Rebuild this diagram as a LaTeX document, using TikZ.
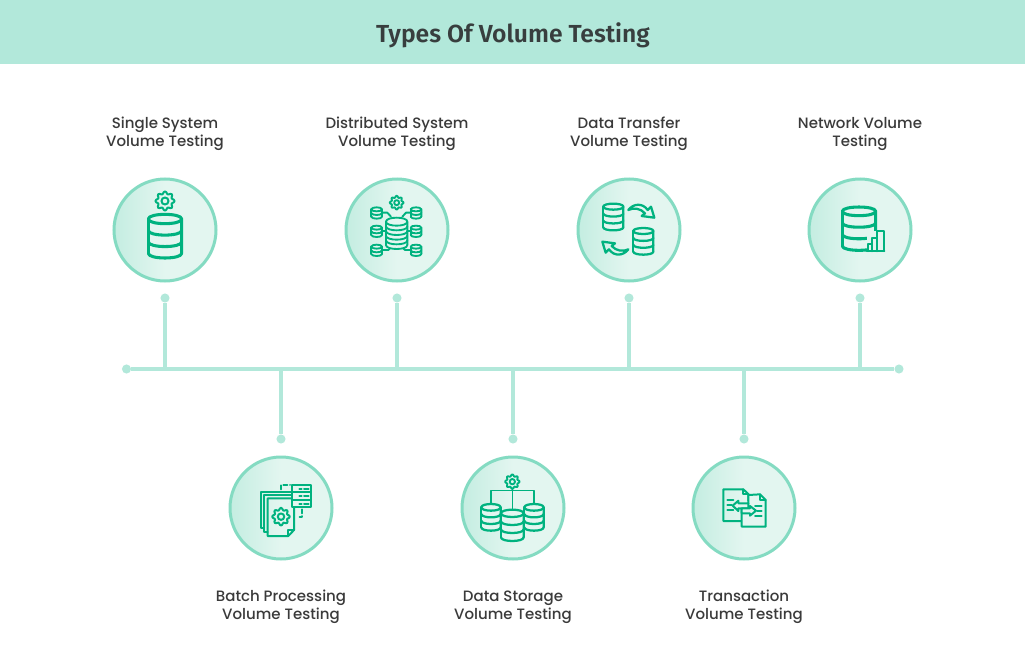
\documentclass[tikz,border=0pt]{standalone}
\usepackage{fontspec}
\setmainfont{Poppins Medium}
\newfontfamily\titlefont{Fira Sans SemiBold}
\definecolor{band}{HTML}{B2E8DA}
\definecolor{ring}{HTML}{84DBC2}
\definecolor{pale}{HTML}{E3F6F0}
\definecolor{paleL}{HTML}{C4EDE1}
\definecolor{ink}{HTML}{00B27F}
\definecolor{txt}{HTML}{3A3A3A}
\definecolor{ttl}{HTML}{383E3E}
\newcommand{\dbcyl}[6]{% x, top y, rx, ry, bottom y, sections
  \path[fill=pale] ({#1-#3},{#2}) .. controls ({#1-#3},{#2-1.33*#4}) and ({#1+#3},{#2-1.33*#4}) .. ({#1+#3},{#2}) -- ({#1+#3},{#5}) .. controls ({#1+#3},{#5+1.33*#4}) and ({#1-#3},{#5+1.33*#4}) .. ({#1-#3},{#5}) -- cycle;
  \draw ({#1-#3},{#2}) .. controls ({#1-#3},{#2-1.33*#4}) and ({#1+#3},{#2-1.33*#4}) .. ({#1+#3},{#2}) -- ({#1+#3},{#5});
  \draw ({#1-#3},{#5}) -- ({#1-#3},{#2});
  \foreach \k in {0,...,#6}{
    \pgfmathsetmacro\yy{#2+\k*(#5-#2)/#6}
    \draw ({#1-#3},\yy) .. controls ({#1-#3},{\yy+1.33*#4}) and ({#1+#3},{\yy+1.33*#4}) .. ({#1+#3},\yy);
  }
}
\newcommand{\gearicon}[3]{% x, y, r
  \draw plot[smooth cycle,domain=0:352.5,samples=48] ({#1+#3*(1+0.15*cos(8*\x))*cos(\x)},{#2+#3*(1+0.15*cos(8*\x))*sin(\x)});
  \draw (#1,#2) circle[radius=#3*0.42];
}
\tikzset{
  px/.style={x=0.75pt,y=-0.75pt},
  zoomed/.style={shift={#1},x=0.25pt,y=-0.25pt},
  iconline/.style={draw=ink,line width=2.3pt,line join=round,line cap=round},
  iconthin/.style={draw=ink,line width=1.4pt,line join=round,line cap=round},
  disc/.style={circle,draw=ring,line width=2.25pt,minimum size=76.5pt,inner sep=0pt,
    left color=paleL,right color=pale,middle color=pale},
  conn/.style={draw=band,line width=2.3pt},
  enddot/.style={circle,fill=band,minimum size=6.8pt,inner sep=0pt},
  lbl/.style={align=center,font=\fontsize{11.25pt}{13.5pt}\selectfont,text=txt,inner sep=0pt},
}
\begin{document}
\begin{tikzpicture}[px]
\useasboundingbox (0,0) rectangle (1025,671);
\fill[white] (0,0) rectangle (1025,671);
\node[fill=band,minimum width=768.75pt,minimum height=48pt,inner sep=0pt,anchor=north west] (head) at (0,0) {};
\node[font=\titlefont\fontsize{18.5pt}{22pt}\selectfont,text=ttl,inner sep=0pt] (title) at (513,35) {Types Of Volume Testing};

% discs
\node[disc] (c1) at (165,230) {};
\node[disc] (c2) at (397,230) {};
\node[disc] (c3) at (629,230) {};
\node[disc] (c4) at (860,230) {};
\node[disc] (c5) at (281,508) {};
\node[disc] (c6) at (513,508) {};
\node[disc] (c7) at (744,508) {};

% timeline
\node[enddot] (L) at (126.5,369) {};
\node[enddot] (R) at (899,369) {};
\draw[conn] (L) -- (R);
\node[enddot] (d1) at (165,298) {};
\node[enddot] (d2) at (397,298) {};
\node[enddot] (d3) at (629,298) {};
\node[enddot] (d4) at (860,298) {};
\node[enddot] (d5) at (281,439) {};
\node[enddot] (d6) at (513,439) {};
\node[enddot] (d7) at (744,439) {};
\coordinate (j1) at (165,369);
\coordinate (j2) at (397,369);
\coordinate (j3) at (629,369);
\coordinate (j4) at (860,369);
\coordinate (j5) at (281,369);
\coordinate (j6) at (513,369);
\coordinate (j7) at (744,369);
\foreach \n in {1,...,7}{\draw[conn] (d\n) -- (j\n);}

% labels
\node[lbl] (t1) at (165,134) {Single System\\Volume Testing};
\node[lbl] (t2) at (397,134) {Distributed System\\Volume Testing};
\node[lbl] (t3) at (629,134) {Data Transfer\\Volume Testing};
\node[lbl] (t4) at (860,134) {Network Volume\\Testing};
\node[lbl] (t5) at (281,607) {Batch Processing\\Volume Testing};
\node[lbl] (t6) at (513,607) {Data Storage\\Volume Testing};
\node[lbl] (t7) at (744,607) {Transaction\\Volume Testing};

% icon 1
\begin{scope}[zoomed={(100,170)}]
 \begin{scope}[iconthin,line width=1.5pt]\gearicon{195}{93}{25}\end{scope}
 \begin{scope}[iconline]\dbcyl{195}{147}{50}{14}{250}{3}\end{scope}
\end{scope}

% icon 2
\begin{scope}[zoomed={(100,170)}]
 \begin{scope}[iconthin]
  \gearicon{890}{98}{18}
  \draw (848,128) -- (862,128) -- (873,140);
  \draw (932,128) -- (918,128) -- (907,140);
  \draw (848,183) -- (858,183);
  \draw (932,183) -- (922,183);
  \draw (848,240) -- (865,240) -- (875,230);
  \draw (932,240) -- (915,240) -- (905,230);
  \dbcyl{890}{155}{32}{12}{225}{5}
  \dbcyl{830}{118}{16}{6}{140}{2}
  \dbcyl{948}{118}{16}{6}{140}{2}
  \dbcyl{830}{173}{16}{6}{195}{2}
  \dbcyl{948}{173}{16}{6}{195}{2}
  \dbcyl{830}{230}{16}{6}{252}{2}
  \dbcyl{948}{230}{16}{6}{252}{2}
 \end{scope}
\end{scope}

% icon 3
\begin{scope}[zoomed={(570,170)}]
 \begin{scope}[iconthin,line width=1.7pt]
  \dbcyl{130}{110}{30}{9}{172}{3}
  \dbcyl{220}{183}{30}{9}{245}{3}
  \draw (175,120) .. controls (190,100) and (218,98) .. (233,120) -- (243,110) -- (253,143) -- (215,138) -- (225,130) .. controls (212,115) and (190,112) .. (175,120) -- cycle;
  \draw (175,238) .. controls (160,258) and (132,260) .. (117,238) -- (107,248) -- (97,215) -- (135,220) -- (125,228) .. controls (138,243) and (160,246) .. (175,238) -- cycle;
 \end{scope}
\end{scope}

% icon 4
\begin{scope}[zoomed={(570,170)}]
 \begin{scope}[iconline]
  \dbcyl{867}{124}{50}{13}{228}{3}
  \fill[pale] (890,182) rectangle (945,248);
  \draw[line width=1.7pt] (890,243) -- (943,243);
  \draw[line width=1.7pt] (893,243) -- (893,222) -- (905,222) -- (905,243);
  \draw[line width=1.7pt] (905,243) -- (905,205) -- (921,205) -- (921,243);
  \draw[line width=1.7pt] (921,243) -- (921,182) -- (941,182) -- (941,243);
 \end{scope}
\end{scope}

% icon 5
\begin{scope}[zoomed={(220,450)}]
 \begin{scope}[iconthin,line width=1.5pt]
  \draw (143,245) -- (132,245) -- (132,135) -- (215,135);
  \draw (132,235) -- (122,235) -- (122,125) -- (215,125);
  \draw (217,145) -- (143,145) -- (143,258) -- (205,258) -- (222,240) -- (222,172);
  \draw (205,258) -- (205,240) -- (222,240);
  \gearicon{183}{200}{23}
  \draw[fill=pale] (217,105) rectangle (273,127);
  \draw[fill=pale] (217,127) rectangle (273,150);
  \draw[fill=pale] (217,150) rectangle (273,172);
  \draw (238,116) -- (245,116) (252,116) -- (266,116);
  \draw (238,138) -- (245,138) (252,138) -- (266,138);
  \draw (238,161) -- (245,161) (252,161) -- (266,161);
  \draw[dash pattern=on 3pt off 2pt] (183,118) -- (183,105) -- (210,105);
  \draw[dash pattern=on 3pt off 2pt] (247,178) -- (247,202) -- (232,202);
 \end{scope}
\end{scope}

% icon 6
\begin{scope}[zoomed={(220,450)}]
 \begin{scope}[iconthin]
  \gearicon{877}{95}{19}
  \draw[line width=.8pt] (813,162) -- (813,122) -- (942,122) -- (942,162);
  \draw[line width=.8pt] (877,114) -- (877,178);
 \end{scope}
 \begin{scope}[iconthin,line width=1.7pt]
  \dbcyl{813}{172}{29}{10}{232}{3}
  \dbcyl{942}{172}{29}{10}{232}{3}
  \dbcyl{877}{190}{34}{11}{262}{3}
 \end{scope}
\end{scope}

% icon 7
\begin{scope}[zoomed={(680,450)}]
 \begin{scope}[iconthin,line width=1.5pt]
  \draw (205,152) -- (205,132) -- (190,118) -- (130,118) -- (130,213) -- (185,213);
  \draw (190,118) -- (190,132) -- (205,132);
  \draw[fill=pale] (205,135) -- (240,133) -- (257,150) -- (257,230) -- (185,230) -- (185,175) -- (205,160) -- cycle;
  \draw (240,133) -- (240,150) -- (257,150);
  \draw (142,150) -- (160,150) (142,165) -- (155,165) (142,180) -- (160,180);
  \draw (225,167) -- (245,167) (232,182) -- (245,182) (225,197) -- (245,197);
  \draw[fill=pale] (158,167) -- (175,152) -- (175,160) -- (205,160) -- (205,175) -- (175,175) -- (175,183) -- cycle;
  \draw[fill=pale] (228,182) -- (210,168) -- (210,175) -- (185,175) -- (185,190) -- (210,190) -- (210,197) -- cycle;
 \end{scope}
\end{scope}
\end{tikzpicture}
\end{document}
